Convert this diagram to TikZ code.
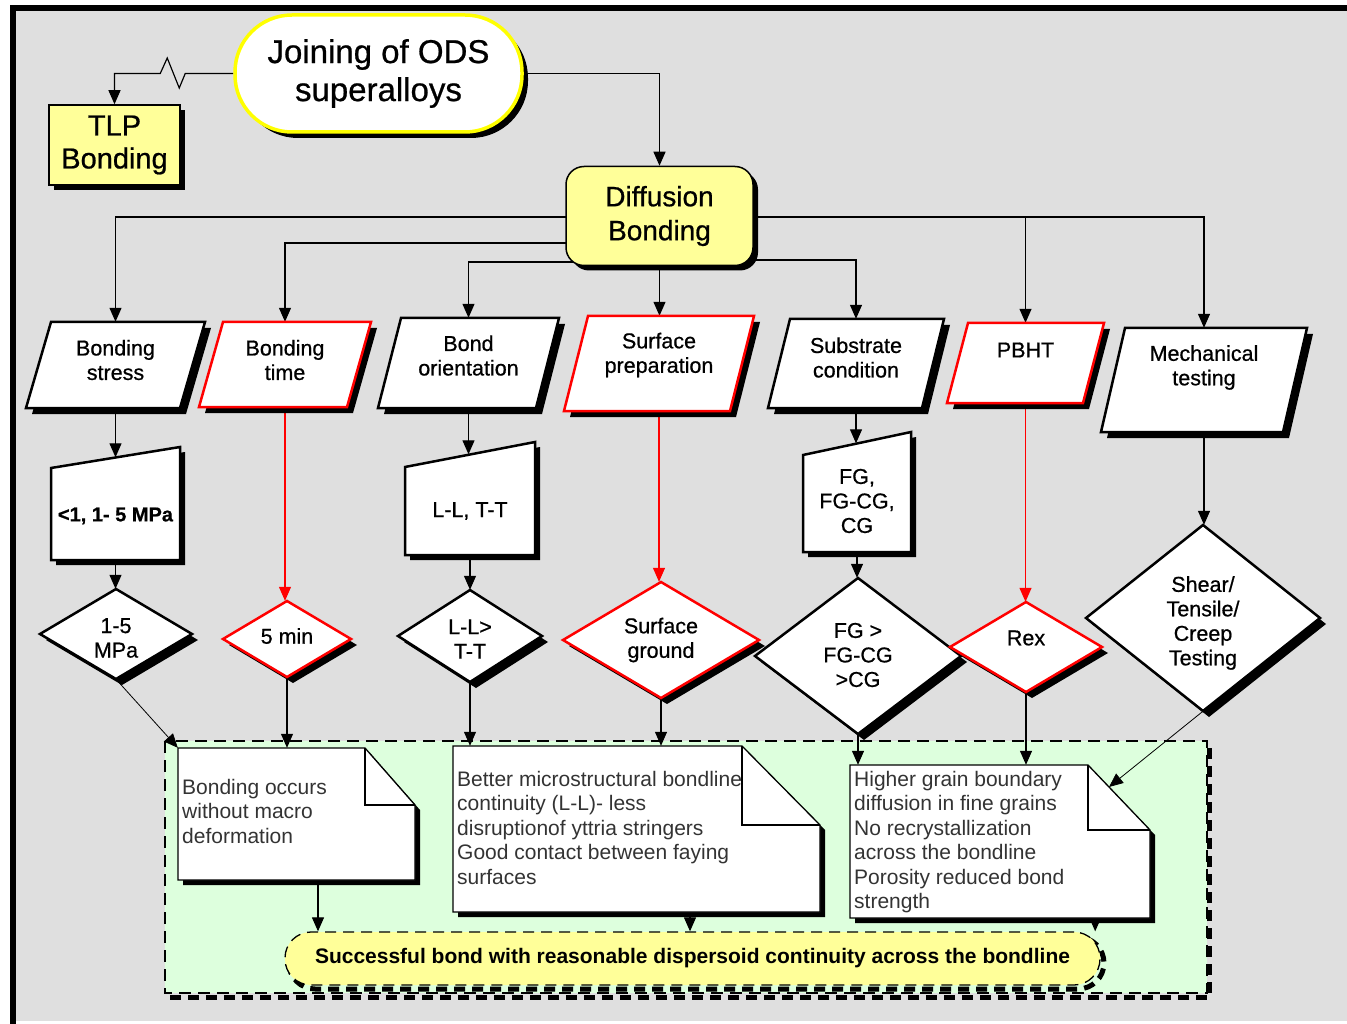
\documentclass[tikz,border=0pt]{standalone}
\usepackage{fontspec}
\setmainfont{Liberation Sans}
\newfontfamily\medfont[FakeBold=0.7]{Liberation Sans}
\usetikzlibrary{arrows.meta,shadows,calc}
\definecolor{bgc}{HTML}{DFDFDF}
\definecolor{lyel}{HTML}{FFFF99}
\definecolor{ylw}{HTML}{FFFF00}
\definecolor{grn}{HTML}{DDFFDD}
\definecolor{ntxt}{HTML}{333333}
\pgfdeclarelayer{back}
\pgfdeclarelayer{conn}
\pgfsetlayers{back,conn,main}
\tikzset{
 shad/.style={general shadow={fill=black,shadow xshift=#1pt,shadow yshift=-#1pt}},
 anch/.style={rectangle,inner sep=0pt,draw=none},
 lbl/.style={align=center,inner sep=0pt,font=\medfont\fontsize{21.5}{24.5}\selectfont},
 ntext/.style={align=left,inner sep=0pt,text=ntxt,font=\fontsize{21}{24.5}\selectfont},
 arr/.style={line width=1.2pt,-{Triangle[length=14pt,width=12pt]}},
 arrR/.style={arr,red},
 arrthin/.style={line width=0.8pt,-{Triangle[length=14pt,width=12pt]}},
 shapeK/.style={fill=white,line width=2.5pt},
}
\newcommand{\mypara}[9]{%
 \filldraw[shapeK,draw=#7,shad=6] ({#2-#4+#6},{#3-#5}) -- ({#2+#4+#6},{#3-#5}) -- ({#2+#4-#6},{#3+#5}) -- ({#2-#4-#6},{#3+#5}) -- cycle;
 \node[anch,minimum width={2*#4},minimum height={2*#5}] (#1) at (#2,#3) {};
 \node[lbl] (#1-t) at (#2,{#3+#8}) {#9};}
\newcommand{\mytrap}[8]{%
 \filldraw[shapeK,draw=black,shad=5] (#2,#4) -- (#3,#5) -- (#3,#6) -- (#2,#6) -- cycle;
 \node[anch,minimum width={#3-#2},minimum height={#6-(#4+#5)/2}] (#1) at ({(#2+#3)/2},{((#4+#5)/2+#6)/2}) {};
 \node[lbl] (#1-t) at ({(#2+#3)/2},#7) {#8};}
\newcommand{\mydiam}[8]{%
 \filldraw[shapeK,draw=#6,shad=6] (#2,{#3-#5}) -- ({#2+#4},#3) -- (#2,{#3+#5}) -- ({#2-#4},#3) -- cycle;
 \node[anch,minimum width={2*#4},minimum height={2*#5}] (#1) at (#2,#3) {};
 \node[lbl] (#1-t) at (#2,#7) {#8};}
\newcommand{\mynote}[9]{%
 \filldraw[fill=white,draw=black,line width=1.3pt,shad=5] (#2,#3) -- ({#4-#6},#3) -- (#4,{#3+#7}) -- (#4,#5) -- (#2,#5) -- cycle;
 \draw[line width=1.3pt] ({#4-#6},#3) -- ({#4-#6},{#3+#7}) -- (#4,{#3+#7});
 \node[anch,minimum width={#4-#2},minimum height={#5-#3}] (#1) at ({(#2+#4)/2},{(#3+#5)/2}) {};
 \node[ntext,anchor=north west] (#1-t) at ({#2+4},#8) {#9};}

\begin{document}
\begin{tikzpicture}[x=1pt,y=-1pt]
\useasboundingbox (0,0) rectangle (1347,1024);
\begin{pgfonlayer}{back}
\fill[white] (0,0) rectangle (1347,1024);
\fill[bgc] (12,8) rectangle (1347,1021);
\draw[line width=6pt] (12.5,1024) -- (12.5,8) -- (1347,8);
\fill[grn] (165,741) rectangle (1207,993);
\draw[line width=5pt,dash pattern=on 11pt off 7pt] (170,997.5) -- (1209.5,997.5) -- (1209.5,746);
\draw[line width=1.3pt,dash pattern=on 12pt off 7pt] (165,741) rectangle (1207,993);
\end{pgfonlayer}

% top nodes
\node[draw=ylw,line width=3.5pt,fill=white,rounded corners=57pt,minimum width=287pt,minimum height=117pt,inner sep=0pt,align=center,font=\medfont\fontsize{33}{38}\selectfont,shad=6] (join) at (378.5,73.5) {Joining of ODS\\superalloys};
\node[draw=black,line width=1.5pt,fill=lyel,minimum width=131pt,minimum height=80pt,inner sep=0pt,align=center,font=\medfont\fontsize{29}{33}\selectfont,shad=5] (tlp) at (114.5,145) {TLP\\Bonding};
\node[draw=black,line width=1.5pt,fill=lyel,rounded corners=18pt,minimum width=187pt,minimum height=99pt,inner sep=0pt,align=center,font=\medfont\fontsize{28}{34}\selectfont,shad=5] (dif) at (659.5,216) {Diffusion\\Bonding};

% parallelograms
\mypara{bs}{115.5}{365}{77}{43}{12.5}{black}{-5}{Bonding\\stress}
\mypara{bt}{285}{364.5}{74}{42.5}{12}{red}{-4.5}{Bonding\\time}
\mypara{bo}{468.5}{363}{79}{45}{11.5}{black}{-7.5}{Bond\\orientation}
\mypara{sp}{659}{363.5}{83}{47.5}{12}{red}{-8.5}{Surface\\preparation}
\mypara{sc}{856}{363.5}{77}{44.5}{11}{black}{-6}{Substrate\\condition}
\mypara{pb}{1025.5}{363}{68}{40}{10.5}{red}{-13}{PBHT}
\mypara{mt}{1204}{380}{91}{52}{12}{black}{-12.5}{Mechanical\\testing}

% trapezoids
\mytrap{tr1}{51}{180}{468}{447}{560}{516}{\fontsize{20}{24}\selectfont\bfseries <1, 1- 5 MPa}
\mytrap{tr2}{405}{535}{467}{442}{555}{511}{L-L, T-T}
\mytrap{tr3}{803}{911}{455}{432}{552}{501}{FG,\\FG-CG,\\CG}

% diamonds
\mydiam{d1}{116}{634}{76}{45}{black}{638}{1-5\\MPa}
\mydiam{d2}{287}{639}{64}{38}{red}{636}{5 min}
\mydiam{d3}{470}{636}{72}{46}{black}{639}{L-L>\\T-T}
\mydiam{d4}{661}{640}{98}{58}{red}{640}{Surface\\ground}
\mydiam{d5}{858}{656}{103}{78}{black}{655}{FG >\\FG-CG\\>CG}
\mydiam{d6}{1026}{647}{76}{45}{red}{638}{Rex}
\mydiam{d7}{1203}{618}{117}{93}{black}{623}{Shear/\\Tensile/\\Creep\\Testing}

% notes
\mynote{n1}{178}{748}{415}{880}{50}{57}{779}{Bonding occurs\\without macro\\deformation}
\mynote{n2}{453}{746}{820}{912}{78}{79}{771}{Better microstructural bondline\\continuity (L-L)- less\\disruptionof yttria stringers\\Good contact between faying\\surfaces}
\mynote{n3}{850}{765}{1150}{918}{62}{65}{771}{Higher grain boundary\\diffusion in fine grains\\No recrystallization\\across the bondline\\Porosity reduced bond\\strength}
\coordinate (n3f) at (1109,787);

% final bar
\draw[line width=5pt,dash pattern=on 11pt off 7pt,rounded corners=26pt] (289,937) rectangle (1104,989);
\node[fill=lyel,draw=black,line width=1.3pt,dash pattern=on 11pt off 7pt,rounded corners=26pt,minimum width=815pt,minimum height=53pt,inner sep=0pt,font=\fontsize{21}{24}\selectfont\bfseries] (fin) at (692.5,958.5) {Successful bond with reasonable dispersoid continuity across the bondline};

% connectors
\begin{pgfonlayer}{conn}
\draw[arr] (join.west) -- ++(-48,0) -- ++(-6,14.5) -- ++(-12,-30) -- ++(-7,15.5) -| (tlp.north);
\draw[arr] (join.east) -| (dif.north);
\draw[arr] ([yshift=-1pt]dif.center) -| (bs.north);
\draw[arr] ([yshift=-27pt]dif.center) -| (bt.north);
\draw[arr] ([yshift=-46pt]dif.center) -| (bo.north);
\draw[arr] (dif.south) -- (dif.south |- sp.north);
\draw[arr] ([yshift=-44pt]dif.center) -| (sc.north);
\draw[arr] ([yshift=-1pt]dif.center) -| (pb.north);
\draw[arr] ([yshift=-1pt]dif.center) -| (mt.north);
\draw[arr] (bs.south) -- (bs.south |- tr1.north);
\draw[arr] (tr1.south) -- (tr1.south |- d1.north);
\draw[arrR] (bt.south) -- (bt.south |- d2.north);
\draw[arr] (bo.south) -- (bo.south |- tr2.north);
\draw[arr] (tr2.south) -- (tr2.south |- d3.north);
\draw[arrR] (sp.south) -- (sp.south |- d4.north);
\draw[arr] (sc.south) -- (sc.south |- tr3.north);
\draw[arr] (tr3.south) -- (tr3.south |- d5.north);
\draw[arrR] (pb.south) -- (pb.south |- d6.north);
\draw[arr] (mt.south) -- (mt.south |- d7.north);
\draw[arrthin] (d1.south) -- (n1.north west);
\draw[arr] (d2.south) -- (d2.south |- n1.north);
\draw[arr] (d3.south) -- (d3.south |- n2.north);
\draw[arr] (d4.south) -- (d4.south |- n2.north);
\draw[arr] (d5.south) -- (d5.south |- n3.north);
\draw[arr] (d6.south) -- (d6.south |- n3.north);
\draw[arrthin] (d7.south) -- (n3f);
\draw[arr] ([xshift=21.5pt]n1.south) -- ([xshift=21.5pt]n1.south |- fin.north);
\draw[arr] ([xshift=53.5pt]n2.south) -- ([xshift=53.5pt]n2.south |- fin.north);
\draw[arr] ([xshift=-55pt]n3.south east) -- ([xshift=-55pt]n3.south east |- fin.north);
\end{pgfonlayer}
\end{tikzpicture}
\end{document}
